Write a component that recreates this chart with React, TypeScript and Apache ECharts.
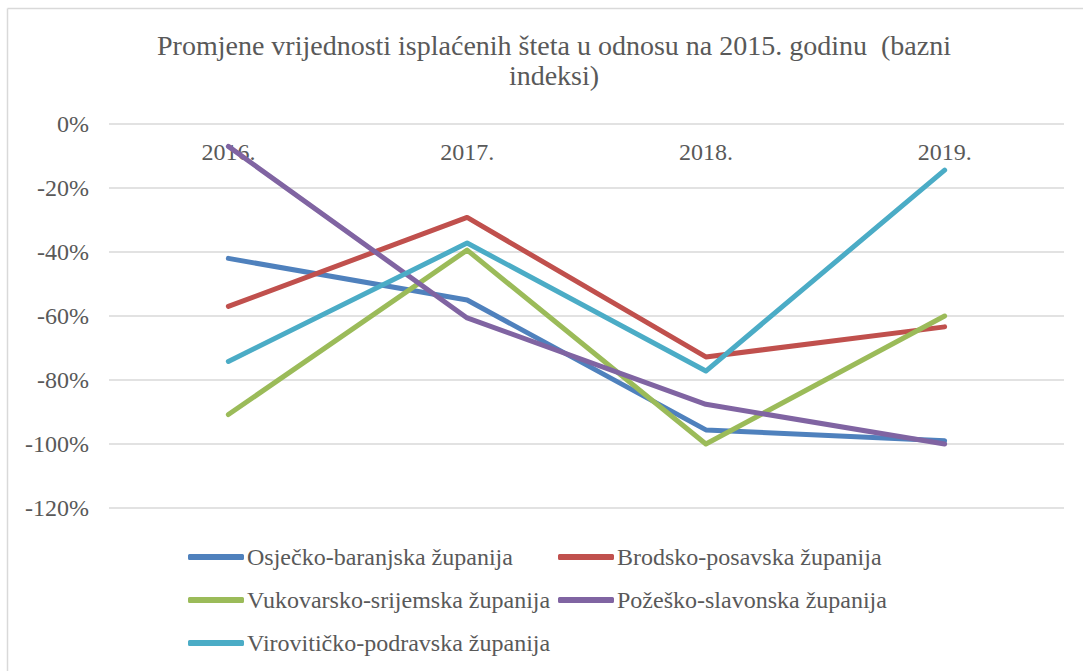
import React, { useEffect, useRef } from "react";
import * as echarts from "echarts";

const categories = ["2016.", "2017.", "2018.", "2019."];
const osjecko = [-42, -55, -95.6, -99];
const brodsko = [-57, -29.2, -72.8, -63.4];
const vukovarsko = [-90.8, -39.4, -100, -60];
const pozesko = [-7, -60.6, -87.6, -100];
const viroviticko = [-74.2, -37.2, -77.2, -14.4];

const seriesNames = [
  "Osječko-baranjska županija",
  "Brodsko-posavska županija",
  "Vukovarsko-srijemska županija",
  "Požeško-slavonska županija",
  "Virovitičko-podravska županija",
];
const seriesValues = [osjecko, brodsko, vukovarsko, pozesko, viroviticko];
const colors = ["#4F81BD", "#C0504D", "#9BBB59", "#8064A2", "#4BACC6"];

const FONT = "Liberation Serif";
const TXT = "#595959";

export default function App() {
  const ref = useRef<HTMLDivElement>(null);
  useEffect(() => {
    if (!ref.current) return;
    const chart = echarts.init(ref.current, null, { renderer: "svg" });
    const legendCommon = {
      orient: "vertical" as const,
      icon: "roundRect",
      itemWidth: 56,
      itemHeight: 6,
      itemGap: 19,
      textStyle: { fontFamily: FONT, fontSize: 24, color: TXT, padding: [0, 0, 0, -2] },
    };
    chart.setOption({
      animation: false,
      backgroundColor: "#ffffff",
      title: {
        text: "Promjene vrijednosti isplaćenih šteta u odnosu na 2015. godinu  (bazni\nindeksi)",
        left: 549,
        textAlign: "center",
        top: 25,
        textStyle: {
          fontFamily: FONT,
          fontSize: 28,
          fontWeight: "normal",
          color: TXT,
          lineHeight: 30,
        },
      },
      legend: [
        { ...legendCommon, left: 183, top: 540, data: [seriesNames[0], seriesNames[2], seriesNames[4]] },
        { ...legendCommon, left: 553, top: 540, data: [seriesNames[1], seriesNames[3]] },
      ],
      grid: { left: 109, right: 19, top: 124, bottom: 163 },
      xAxis: {
        type: "category",
        data: categories,
        position: "top",
        boundaryGap: true,
        axisLine: { show: false },
        axisTick: { show: false },
        axisLabel: {
          inside: true,
          margin: 16,
          fontFamily: FONT,
          fontSize: 24,
          color: TXT,
        },
      },
      yAxis: {
        type: "value",
        min: -120,
        max: 0,
        interval: 20,
        axisLine: { show: false },
        axisTick: { show: false },
        axisLabel: {
          formatter: (v: number) => `${v}%`,
          fontFamily: FONT,
          fontSize: 24,
          color: TXT,
          margin: 20,
        },
        splitLine: { lineStyle: { color: "#D9D9D9", width: 1.5 } },
      },
      series: seriesValues.map((vals, i) => ({
        name: seriesNames[i],
        type: "line",
        data: vals,
        symbol: "none",
        color: colors[i],
        lineStyle: { width: 5, color: colors[i], cap: "round", join: "round" },
      })),
      graphic: [
        { type: "line", shape: { x1: 7.5, y1: 8.5, x2: 1083, y2: 8.5 }, style: { stroke: "#D9D9D9", lineWidth: 1.5 } },
        { type: "line", shape: { x1: 7.5, y1: 8.5, x2: 7.5, y2: 671 }, style: { stroke: "#D9D9D9", lineWidth: 1.5 } },
      ],
    });
    return () => chart.dispose();
  }, []);
  return (
    <div
      ref={ref}
      style={{ position: "absolute", left: 0, top: 0, width: 1083, height: 671 }}
    />
  );
}
